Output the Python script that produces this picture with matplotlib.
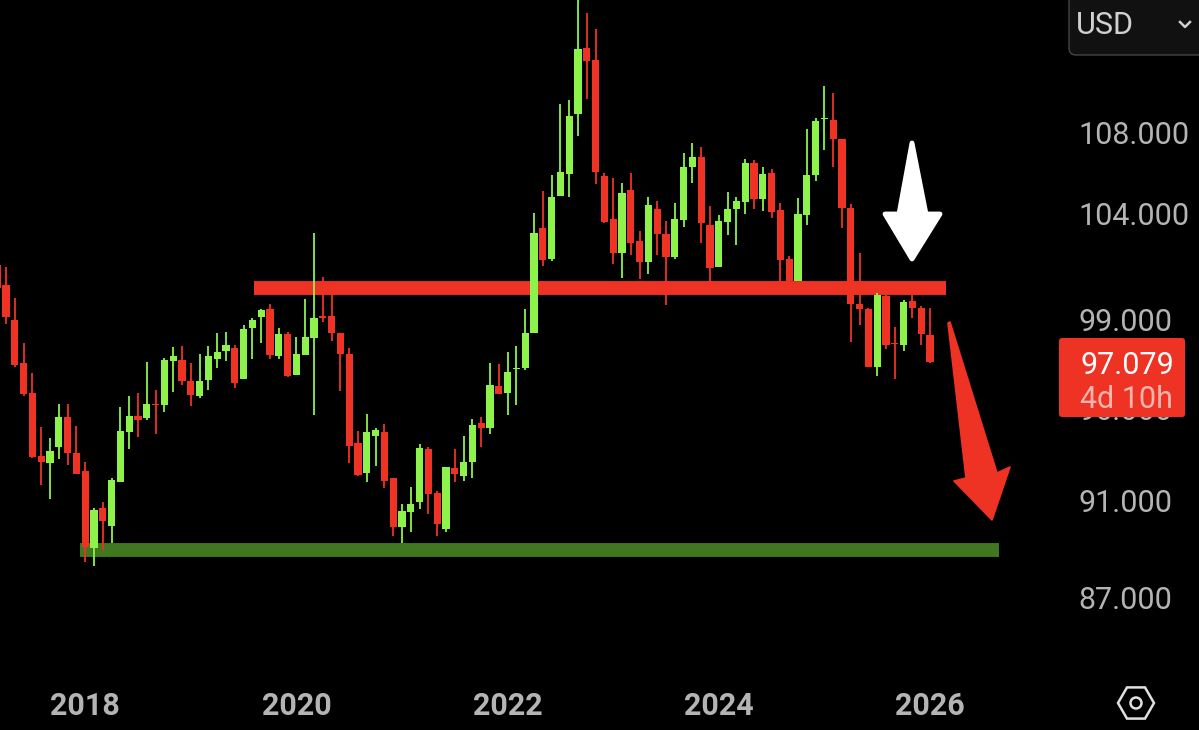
# grafico mensal do indice do dolar, velas + linhas desenhadas a mao
import matplotlib
matplotlib.use('Agg')
import matplotlib.pyplot as plt
import matplotlib.transforms as mtransforms
from matplotlib.patches import Polygon, FancyBboxPatch, Circle, RegularPolygon
from matplotlib.lines import Line2D
from matplotlib.ticker import FixedLocator, FixedFormatter, NullLocator

plt.rcParams['font.family'] = ['Roboto', 'DejaVu Sans']

# velas mensais, a primeira e 2017-03
abertura = [101.53,100.59,98.97,97.03,95.66,92.91,92.62,93.29,94.59,93.03,92.25,89.02,90.69,89.95,91.81,93.94,94.64,94.57,95.18,95.12,97.10,97.15,96.19,95.54,96.25,97.21,97.54,
            97.69,96.29,98.60,99.11,99.46,97.33,98.31,96.49,97.39,98.16,99.14,99.17,98.36,97.43,93.46,92.19,93.78,93.94,91.95,89.91,90.51,90.93,93.23,91.31,89.81,92.38,92.07,
            92.67,94.33,94.14,95.98,95.68,96.76,96.77,98.37,103.31,101.80,104.85,105.91,108.91,112.30,111.66,105.82,103.74,102.11,105.13,102.67,101.69,104.22,103.00,101.91,103.67,106.27,106.77,
            103.43,101.45,103.59,104.21,104.55,106.44,104.67,105.95,104.17,101.81,100.76,103.92,105.86,108.64,108.60,107.67,104.25,99.71,99.48,96.82,100.08,97.92,97.83,99.83,99.54,98.30]
maximas = [101.61,101.45,99.97,97.93,96.55,94.16,93.68,95.18,95.18,94.23,92.64,90.68,90.96,91.98,95.06,95.55,95.66,97.04,95.80,97.22,97.72,97.78,97.00,97.40,97.78,98.37,98.42,
           97.84,98.76,99.08,99.49,99.69,98.59,98.40,98.21,99.95,103.03,100.98,100.36,98.37,97.68,94.01,94.74,94.11,94.32,91.95,90.86,91.60,93.44,93.31,91.43,92.45,93.23,93.78,
           94.51,94.59,97.00,96.95,97.49,97.78,99.46,104.00,105.10,105.88,109.40,109.62,115.18,114.12,113.31,105.98,105.70,105.46,105.98,103.15,104.77,104.58,103.64,104.51,106.94,107.43,107.23,
           104.35,103.92,105.05,104.80,106.64,106.60,106.24,106.14,104.51,101.97,104.74,108.17,108.72,110.33,109.99,107.67,104.43,102.08,99.51,100.20,100.13,98.66,99.89,100.13,99.62,99.52]
minimas = [100.39,98.79,96.85,95.54,92.81,91.65,91.06,92.77,92.54,92.12,88.46,88.28,88.94,89.22,91.81,93.23,93.75,94.48,93.87,94.84,95.73,96.04,95.09,95.45,95.80,96.80,97.10,
           95.88,96.29,97.21,97.90,97.21,97.18,96.40,96.49,97.39,94.70,98.89,97.99,95.77,92.60,92.05,91.78,92.49,91.55,89.54,89.22,89.69,90.67,90.44,89.54,89.70,91.81,91.85,
           91.97,93.31,93.87,95.61,94.70,95.15,96.68,98.36,101.48,101.73,104.85,104.77,107.82,109.69,105.42,103.51,101.58,100.90,102.00,100.86,101.11,101.99,99.66,101.83,103.35,105.46,102.56,
           100.75,101.45,102.97,102.48,103.96,104.19,104.11,103.75,100.75,100.70,100.76,103.45,105.55,107.10,106.26,103.27,97.98,98.74,96.82,96.44,97.63,96.28,97.54,99.05,97.83,97.03]
fechamento = [100.44,99.12,96.92,95.63,92.85,92.65,93.11,94.59,93.06,92.12,89.08,90.61,90.13,91.88,94.00,94.67,94.48,95.18,95.14,97.16,97.31,96.19,95.60,96.19,97.31,97.51,97.81,
              96.12,98.54,98.97,99.41,97.36,98.34,96.41,97.43,98.18,99.08,99.06,98.36,97.42,93.36,92.09,93.94,94.04,91.85,89.91,90.57,90.88,93.26,91.29,90.02,92.44,92.14,92.65,
              94.24,94.13,96.03,95.61,96.59,96.80,98.37,103.07,101.77,104.79,106.01,108.79,112.26,111.62,106.03,103.58,102.11,104.97,102.56,101.69,104.40,102.99,101.91,103.71,106.24,106.77,103.55,
              101.37,103.61,104.22,104.61,106.44,104.67,105.93,104.06,101.78,100.78,103.95,105.88,108.57,108.69,107.63,104.25,99.71,99.49,96.82,100.14,97.84,97.89,99.80,99.51,98.31,97.07]

anos = ['2018', '2020', '2022', '2024', '2026']
pos_anos = [10, 34, 58, 82, 106]   # indice da vela de janeiro
precos = [108, 104, 99, 95, 91, 87]
precos_txt = ['108.000', '104.000', '99.000', '95.000', '91.000', '87.000']

nivel_vermelho = 100.45
nivel_verde = 88.94

VERDE = '#8df34b'
VERMELHO = '#ee3224'
CINZA = '#b4b4b4'

fig = plt.figure(figsize=(11.99, 7.3), dpi=100, facecolor='black')
ax = fig.add_axes([0, 0, 1, 1], facecolor='black')

# 8.8 px por mes, janeiro de 2018 em x=85.2
ax.set_xlim(10 - 85.2 / 8.8, 10 + (1199 - 85.2) / 8.8)
ax.set_yscale('log')
ax.set_ylim(81.81, 114.83)

# linhas desenhadas, ficam atras das velas
ax.hlines(nivel_vermelho, 29.18, 107.8, color=VERMELHO, linewidth=10, capstyle='butt', zorder=2)
ax.hlines(nivel_verde, 9.41, 113.84, color='#41781f', linewidth=10, capstyle='butt', zorder=2)

x = list(range(len(abertura)))
cores = [VERDE if c > a else VERMELHO for a, c in zip(abertura, fechamento)]
base = [min(a, c) for a, c in zip(abertura, fechamento)]
altura = [abs(a - c) for a, c in zip(abertura, fechamento)]
ax.vlines(x, minimas, maximas, colors=cores, linewidth=1.3, zorder=3)
ax.bar(x, altura, bottom=base, width=0.84, color=cores, linewidth=0, zorder=3)

for lado in ax.spines.values():
    lado.set_visible(False)

ax.xaxis.set_major_locator(FixedLocator(pos_anos))
ax.xaxis.set_major_formatter(FixedFormatter(anos))
ax.yaxis.tick_right()
ax.yaxis.set_major_locator(FixedLocator(precos))
ax.yaxis.set_major_formatter(FixedFormatter(precos_txt))
ax.yaxis.set_minor_locator(NullLocator())
ax.tick_params(axis='x', length=0, pad=-28, labelsize=22, labelcolor=CINZA)
ax.tick_params(axis='y', length=0, pad=-87, labelsize=22, labelcolor=CINZA)
for t in ax.get_xticklabels():
    t.set_fontweight('bold')

# desenhos em pixels da imagem (origem em cima)
px = mtransforms.Affine2D().scale(1, -1).translate(0, 730)

seta_branca = [(912, 143), (926, 214), (940, 214), (912, 259), (885, 214), (899, 214)]
fig.add_artist(Polygon(seta_branca, closed=True, facecolor='white', edgecolor='white',
                       linewidth=3.5, joinstyle='round', transform=px, zorder=6))
seta_vermelha = [(948, 323), (950, 322), (997, 473), (1010, 467), (992, 520), (954, 481), (966, 478)]
fig.add_artist(Polygon(seta_vermelha, closed=True, facecolor=VERMELHO, edgecolor=VERMELHO,
                       linewidth=1.2, joinstyle='round', transform=px, zorder=6))

# etiqueta do preco atual
fig.add_artist(FancyBboxPatch((1062, 341), 120, 73, boxstyle='round,pad=3,rounding_size=3',
                              facecolor=VERMELHO, edgecolor='none', transform=px, zorder=6))
fig.text(1080, 362, '97.079', color='white', fontsize=22, va='center_baseline', transform=px, zorder=7)
fig.text(1080, 397, '4d 10h', color='#f6b5ad', fontsize=22, va='center_baseline', transform=px, zorder=7)

# caixa USD
fig.add_artist(FancyBboxPatch((1069, -20), 150, 75, boxstyle='round,pad=0,rounding_size=7',
                              facecolor='#111111', edgecolor='#444444', linewidth=1, transform=px, zorder=6))
fig.text(1076, 22, 'USD', color='#d0d0d0', fontsize=22, va='center_baseline', transform=px, zorder=7)
fig.add_artist(Line2D([1180, 1185, 1190], [22, 27, 22], color='#d0d0d0', linewidth=1.8, transform=px, zorder=7))

# icone de configuracao
fig.add_artist(RegularPolygon((1136, 703), 6, radius=18, orientation=0.5236, facecolor='none',
                              edgecolor='#e0e0e0', linewidth=1.8, transform=px, zorder=6))
fig.add_artist(Circle((1136, 703), 5.5, facecolor='none', edgecolor='#e0e0e0', linewidth=1.8, transform=px, zorder=6))

fig.savefig('out.png', facecolor='black')
